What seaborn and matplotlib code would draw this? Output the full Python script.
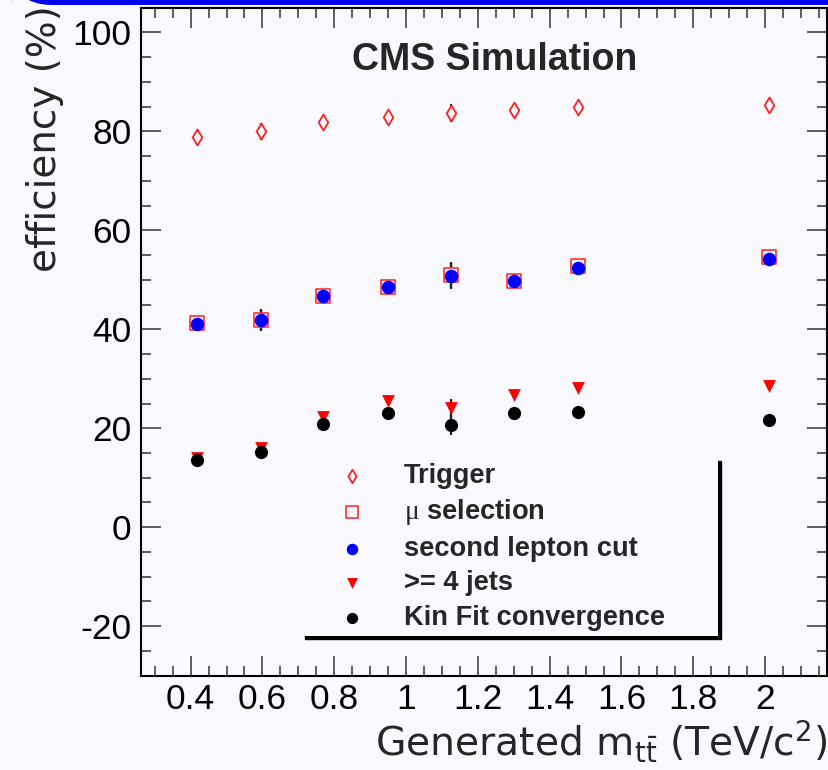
import matplotlib
matplotlib.use("Agg")
import matplotlib.pyplot as plt
import seaborn as sns
import pandas as pd
from matplotlib.ticker import FixedLocator, MultipleLocator, FuncFormatter
from matplotlib.patches import FancyBboxPatch
from matplotlib.font_manager import FontProperties

# Generated ttbar mass points (TeV/c^2)
mass = [0.4175, 0.595, 0.77, 0.949, 1.126, 1.302, 1.48, 2.011]

# Cumulative selection efficiencies (%) and their uncertainties
trigger = [78.8, 80.0, 81.8, 82.8, 83.7, 84.4, 84.9, 85.3]
trigger_err = [0.5, 1.7, 0.5, 0.5, 1.8, 0.5, 0.5, 0.5]
mu_sel = [41.2, 41.8, 46.7, 48.6, 50.9, 49.8, 52.8, 54.6]
mu_sel_err = [0.6, 2.1, 0.6, 0.6, 2.6, 0.6, 0.6, 0.6]
lepton = [41.1, 41.9, 46.7, 48.5, 50.7, 49.8, 52.3, 54.3]
lepton_err = [0.6, 2.1, 0.6, 0.6, 2.6, 0.6, 0.6, 0.6]
jets = [14.0, 16.0, 22.3, 25.5, 24.0, 26.8, 28.1, 28.5]
jets_err = [0.5, 1.0, 0.5, 0.5, 1.9, 0.5, 0.5, 0.5]
kinfit = [13.5, 15.2, 20.9, 23.1, 20.7, 23.1, 23.3, 21.6]
kinfit_err = [0.5, 1.0, 0.5, 0.5, 2.0, 0.5, 0.5, 0.5]

series_labels = ["Trigger", r"$\mathsf{\mu}$ selection", "second lepton cut",
                 ">= 4 jets", "Kin Fit convergence"]
x_ticks = [0.4, 0.6, 0.8, 1.0, 1.2, 1.4, 1.6, 1.8, 2.0]
y_ticks = [-20, 0, 20, 40, 60, 80, 100]

BG = "#f9f9ff"
sns.set_theme(style="ticks")
plt.rcParams["font.family"] = ["Liberation Sans", "DejaVu Sans"]
plt.rcParams["mathtext.fontset"] = "custom"
plt.rcParams["mathtext.rm"] = "DejaVu Sans"
plt.rcParams["mathtext.it"] = "DejaVu Sans:italic"
plt.rcParams["mathtext.bf"] = "DejaVu Sans:bold"
plt.rcParams["mathtext.sf"] = "Liberation Serif"

fig = plt.figure(figsize=(8.29, 7.70), dpi=100, facecolor=BG)
ax = fig.add_axes([0.16972, 0.12247, 0.8275, 0.86766], facecolor=BG)

# blue header strip along the top edge
fig.patches.append(FancyBboxPatch((12, 765), 900, 40, transform=None,
                                  boxstyle="round,pad=0,rounding_size=40",
                                  facecolor="#0000f0", edgecolor="none"))

df = pd.DataFrame({"mass": mass, "trigger": trigger, "mu_sel": mu_sel,
                   "lepton": lepton, "jets": jets, "kinfit": kinfit})

styles = [
    ("trigger", trigger_err, dict(marker="d", s=66, facecolor=BG, edgecolor="#ff2020", linewidth=1.3)),
    ("mu_sel", mu_sel_err, dict(marker="s", s=95, facecolor=BG, edgecolor="#ff3030", linewidth=1.2)),
    ("lepton", lepton_err, dict(marker="o", s=95, color="#0000ff", edgecolor="#0000ff", linewidth=0)),
    ("jets", jets_err, dict(marker="v", s=85, color="#ff0000", edgecolor="#ff0000", linewidth=0)),
    ("kinfit", kinfit_err, dict(marker="o", s=90, color="black", edgecolor="black", linewidth=0)),
]

for (col, err, kw), lab in zip(styles, series_labels):
    ax.errorbar(df["mass"], df[col], yerr=err, fmt="none", ecolor="#202020",
                elinewidth=1.6, capsize=0, zorder=2)
    sns.scatterplot(data=df, x="mass", y=col, ax=ax, label=lab, zorder=3, **kw)

ax.set_xlim(0.261, 2.1716)
ax.set_ylim(-30, 105)

ax.xaxis.set_major_locator(FixedLocator(x_ticks))
ax.xaxis.set_minor_locator(MultipleLocator(0.05))
ax.yaxis.set_major_locator(FixedLocator(y_ticks))
ax.yaxis.set_minor_locator(MultipleLocator(5))
ax.xaxis.set_major_formatter(FuncFormatter(lambda v, p: f"{v:g}"))
ax.yaxis.set_major_formatter(FuncFormatter(lambda v, p: f"{v:g}"))

for side in ax.spines.values():
    side.set_linewidth(1.5)
    side.set_color("black")
ax.tick_params(which="both", direction="in", top=True, right=True,
               color="#333333", width=1.1, labelsize=25.5, labelcolor="black")
ax.tick_params(which="major", length=14.4)
ax.tick_params(which="minor", length=7.2)
ax.tick_params(axis="x", which="major", pad=5.5)
ax.tick_params(axis="y", which="major", pad=6.5)

ax.set_xlabel(r"Generated m$_{\mathrm{t\bar{t}}}$ (TeV/c$^{\mathrm{2}}$)",
              fontsize=28.3, loc="right", family="DejaVu Sans")
ax.xaxis.set_label_coords(1.0005, -0.064)
ax.set_ylabel("efficiency (%)", fontsize=28, loc="top", family="DejaVu Sans")
ax.yaxis.set_label_coords(-0.112, 1.004)

ax.text(0.5165, 0.921, "CMS Simulation", transform=ax.transAxes,
        ha="center", va="center", fontsize=27, fontweight="bold")

leg = ax.legend(loc="upper left", bbox_to_anchor=(0.235, 0.0625, 0.6065, 0.264),
                mode="expand", borderaxespad=0,
                prop=FontProperties(family="Liberation Sans", weight="bold", size=19.6),
                frameon=True, fancybox=False, facecolor=BG, edgecolor="none",
                framealpha=1, shadow={"color": "black", "alpha": 1, "ox": 2.2, "oy": -2.2},
                borderpad=0.2, handlelength=3.3, handletextpad=0.25,
                labelspacing=0.31, markerscale=0.85)

fig.savefig("out.png", dpi=100, facecolor=BG)
